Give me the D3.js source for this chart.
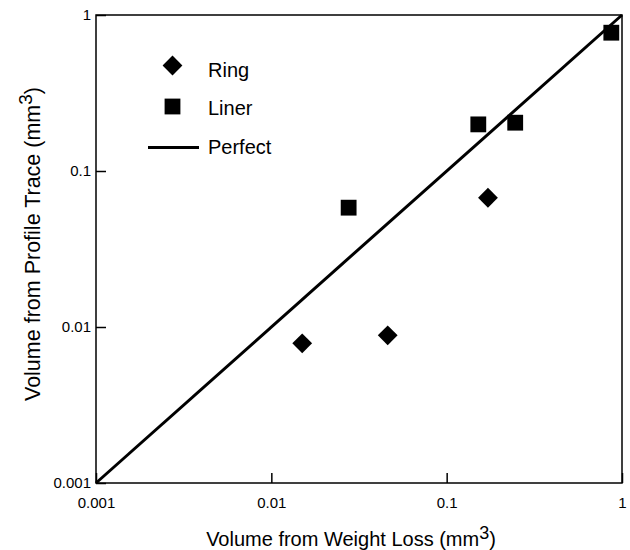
<!DOCTYPE html>
<html>
<head>
<meta charset="utf-8">
<script src="https://cdn.jsdelivr.net/npm/d3@7"></script>
<style>
  body { margin: 0; background: #fff; }
  svg { display: block; font-family: "Liberation Sans", Arial, sans-serif; }
</style>
</head>
<body>
<svg id="chart" width="630" height="550"></svg>
<script>
var ringX = [0.0150, 0.0461, 0.172];
var ringY = [0.00786, 0.00885, 0.0674];
var linerX = [0.0276, 0.1515, 0.246, 0.869];
var linerY = [0.0582, 0.199, 0.204, 0.770];
var perfectX = [0.001, 1];
var perfectY = [0.001, 1];
var tickValues = [0.001, 0.01, 0.1, 1];
var tickLabels = ["0.001", "0.01", "0.1", "1"];
var legendLabels = ["Ring", "Liner", "Perfect"];

var margin = { top: 15, right: 8, bottom: 67, left: 96 };
var width = 630 - margin.left - margin.right;
var height = 550 - margin.top - margin.bottom;

var svg = d3.select("#chart");
var g = svg.append("g")
    .attr("transform", "translate(" + margin.left + "," + margin.top + ")");

var x = d3.scaleLog().domain([0.001, 1]).range([0, width]);
var y = d3.scaleLog().domain([0.001, 1]).range([height, 0]);

var fmt = function(d) { return tickLabels[tickValues.indexOf(d)]; };

var xAxis = d3.axisBottom(x).tickValues(tickValues).tickFormat(fmt)
    .tickSize(-10).tickPadding(14);
var yAxis = d3.axisLeft(y).tickValues(tickValues).tickFormat(fmt)
    .tickSize(-10).tickPadding(5);

var gx = g.append("g").attr("transform", "translate(0," + height + ")").call(xAxis);
var gy = g.append("g").call(yAxis);
[gx, gy].forEach(function(a) {
  a.attr("font-size", 15).attr("font-family", "Liberation Sans, Arial, sans-serif");
  a.select(".domain").remove();
  a.selectAll(".tick line").attr("stroke", "#000").attr("stroke-width", 1.5);
  a.selectAll(".tick text").attr("fill", "#000");
});

// frame
g.append("rect")
  .attr("x", 0).attr("y", 0)
  .attr("width", width).attr("height", height)
  .attr("fill", "none").attr("stroke", "#000").attr("stroke-width", 1.5);

// perfect line
var line = d3.line()
  .x(function(d) { return x(d[0]); })
  .y(function(d) { return y(d[1]); });
g.append("path")
  .datum(perfectX.map(function(v, i) { return [v, perfectY[i]]; }))
  .attr("d", line)
  .attr("fill", "none").attr("stroke", "#000").attr("stroke-width", 3);

var diamond = d3.symbol().type(d3.symbolSquare).size(196);
var square = d3.symbol().type(d3.symbolSquare).size(250);

g.selectAll(".ring")
  .data(ringX.map(function(v, i) { return [v, ringY[i]]; }))
  .enter().append("path")
  .attr("class", "ring")
  .attr("d", diamond)
  .attr("transform", function(d) {
    return "translate(" + x(d[0]) + "," + y(d[1]) + ") rotate(45)";
  });

g.selectAll(".liner")
  .data(linerX.map(function(v, i) { return [v, linerY[i]]; }))
  .enter().append("path")
  .attr("class", "liner")
  .attr("d", square)
  .attr("transform", function(d) {
    return "translate(" + x(d[0]) + "," + y(d[1]) + ")";
  });

// legend
var legend = svg.append("g");
legend.append("path").attr("d", diamond)
  .attr("transform", "translate(172.5,65.5) rotate(45)");
legend.append("path").attr("d", square)
  .attr("transform", "translate(172.5,106.5)");
legend.append("line")
  .attr("x1", 148).attr("x2", 199).attr("y1", 147.5).attr("y2", 147.5)
  .attr("stroke", "#000").attr("stroke-width", 3);
legend.selectAll("text")
  .data(legendLabels)
  .enter().append("text")
  .attr("x", 208)
  .attr("y", function(d, i) { return 76.5 + i * 38.5; })
  .attr("font-size", "20px")
  .text(function(d) { return d; });

// axis titles
var xt = svg.append("text")
  .attr("x", 351).attr("y", 546)
  .attr("text-anchor", "middle")
  .attr("font-size", "20px");
xt.append("tspan").text("Volume from Weight Loss (mm");
xt.append("tspan").attr("font-size", "18px").attr("dy", -7).text("3");
xt.append("tspan").attr("dy", 7).text(")");

var yt = svg.append("text")
  .attr("transform", "translate(39.5,244) rotate(-90)")
  .attr("text-anchor", "middle")
  .attr("font-size", "21.5px");
yt.append("tspan").text("Volume from Profile Trace (mm");
yt.append("tspan").attr("font-size", "19px").attr("dy", -7.5).text("3");
yt.append("tspan").attr("dy", 7.5).text(")");
</script>
</body>
</html>
